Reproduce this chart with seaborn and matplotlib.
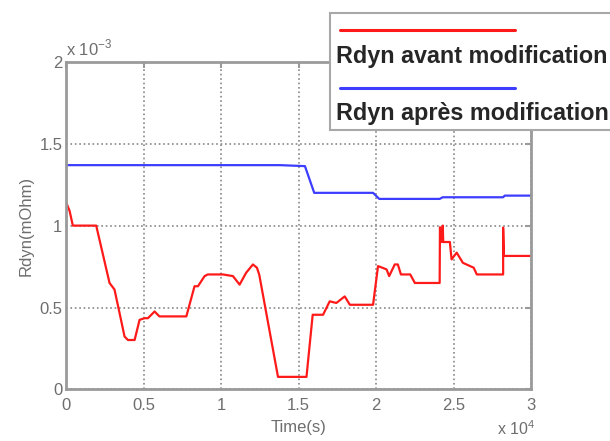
import numpy as np
import pandas as pd
import seaborn as sns
import matplotlib
matplotlib.use("Agg")
import matplotlib.pyplot as plt
from matplotlib.ticker import FuncFormatter, MultipleLocator
from matplotlib.patches import Rectangle
from matplotlib.lines import Line2D

# ---------------------------- data (time in s, Rdyn in x1e-3) --------------------
t_avant = [0, 200, 410, 1920, 2780, 3100, 3340, 3750, 3970, 4400, 4720, 5040, 5260,
           5690, 6000, 7740, 8270, 8490, 8920, 9130, 10100, 10750, 11180, 11600,
           12040, 12300, 12450, 13660, 15500, 15900, 16570, 17000, 17430, 17970,
           18300, 19800, 20120, 20670, 20840, 21200, 21400, 21600, 22200, 22500,
           24100, 24120, 24220, 24300, 24330, 24760, 24870, 25200, 25600, 26300,
           26500, 28200, 28200, 28250, 30000]
r_avant = [1.137, 1.09, 1.0, 1.0, 0.65, 0.61, 0.505, 0.323, 0.302, 0.302, 0.425,
           0.435, 0.435, 0.476, 0.446, 0.446, 0.63, 0.63, 0.692, 0.702, 0.702,
           0.692, 0.64, 0.712, 0.763, 0.743, 0.70, 0.077, 0.077, 0.456, 0.456,
           0.538, 0.528, 0.568, 0.517, 0.517, 0.753, 0.733, 0.692, 0.763, 0.763,
           0.702, 0.702, 0.65, 0.65, 0.99, 0.90, 1.0, 0.90, 0.90, 0.794, 0.835,
           0.773, 0.743, 0.702, 0.702, 0.988, 0.815, 0.815]

t_apres = [0, 13800, 15400, 16000, 19800, 20200, 24100, 24300, 28200, 28300, 30000]
r_apres = [1.369, 1.369, 1.363, 1.20, 1.20, 1.163, 1.163, 1.173, 1.173, 1.183, 1.183]

labels = ["Rdyn avant modification", "Rdyn après modification"]
colors = ["#ff1a1a", "#3d3dff"]

df = pd.concat([
    pd.DataFrame({"Time": t_avant, "Rdyn": np.array(r_avant) * 1e-3, "serie": labels[0]}),
    pd.DataFrame({"Time": t_apres, "Rdyn": np.array(r_apres) * 1e-3, "serie": labels[1]}),
])

# ---------------------------- plot --------------------
sns.set_style("white")
plt.rcParams["font.family"] = ["Liberation Sans", "DejaVu Sans"]
plt.rcParams["mathtext.fontset"] = "custom"
plt.rcParams["mathtext.rm"] = "Liberation Sans"

grey = "#9a9a9a"
txt = "#6e6e6e"

fig = plt.figure(figsize=(6.1, 4.41), dpi=100)
ax = fig.add_axes([0.109, 0.1168, 0.7615, 0.7432])

sns.lineplot(data=df, x="Time", y="Rdyn", hue="serie", palette=colors,
             estimator=None, sort=False, linewidth=1.6, legend=False, ax=ax)

ax.set_xlim(0, 30000)
ax.set_ylim(0, 2e-3)
ax.xaxis.set_major_locator(MultipleLocator(5000))
ax.yaxis.set_major_locator(MultipleLocator(0.5e-3))
ax.xaxis.set_major_formatter(FuncFormatter(lambda v, p: "%g" % round(v / 1e4, 3)))
ax.yaxis.set_major_formatter(FuncFormatter(lambda v, p: "%g" % round(v / 1e-3, 3)))

ax.grid(True, linestyle=":", color="#888888", linewidth=1.2)
for s in ax.spines.values():
    s.set_color(grey)
    s.set_linewidth(2)
ax.tick_params(direction="in", length=4, width=1.5, color=grey, labelcolor=txt,
               labelsize=12, top=True, right=True)
ax.tick_params(axis="x", pad=6)
ax.tick_params(axis="y", pad=3)

ax.set_xlabel("Time(s)", fontsize=12, color=txt, labelpad=5)
ax.set_ylabel("Rdyn(mOhm)", fontsize=12, color=txt, labelpad=4)

ax.text(0, 1.02, r"x 10$^{-3}$", transform=ax.transAxes, fontsize=12,
        color=txt, ha="left", va="baseline")
ax.text(1.01, -0.14, r"x 10$^{4}$", transform=ax.transAxes, fontsize=11.5,
        color=txt, ha="right", va="baseline")

# ---------------------------- legend box --------------------
fig.add_artist(Rectangle((0.541, 0.7052), 0.5, 0.266, transform=fig.transFigure,
                         facecolor="white", edgecolor="#a8a8a8", linewidth=1.5, zorder=5))
fig.add_artist(Line2D([0.557, 0.844], [0.932, 0.932], transform=fig.transFigure,
                      color=colors[0], linewidth=2.2, zorder=6))
fig.add_artist(Line2D([0.557, 0.844], [0.800, 0.800], transform=fig.transFigure,
                      color=colors[1], linewidth=2.2, zorder=6))
fig.text(0.551, 0.8565, labels[0], fontsize=16.8, fontweight="bold",
         va="baseline", ha="left", zorder=7)
fig.text(0.551, 0.7268, labels[1], fontsize=16.8, fontweight="bold",
         va="baseline", ha="left", zorder=7)

fig.savefig("out.png", dpi=100)
